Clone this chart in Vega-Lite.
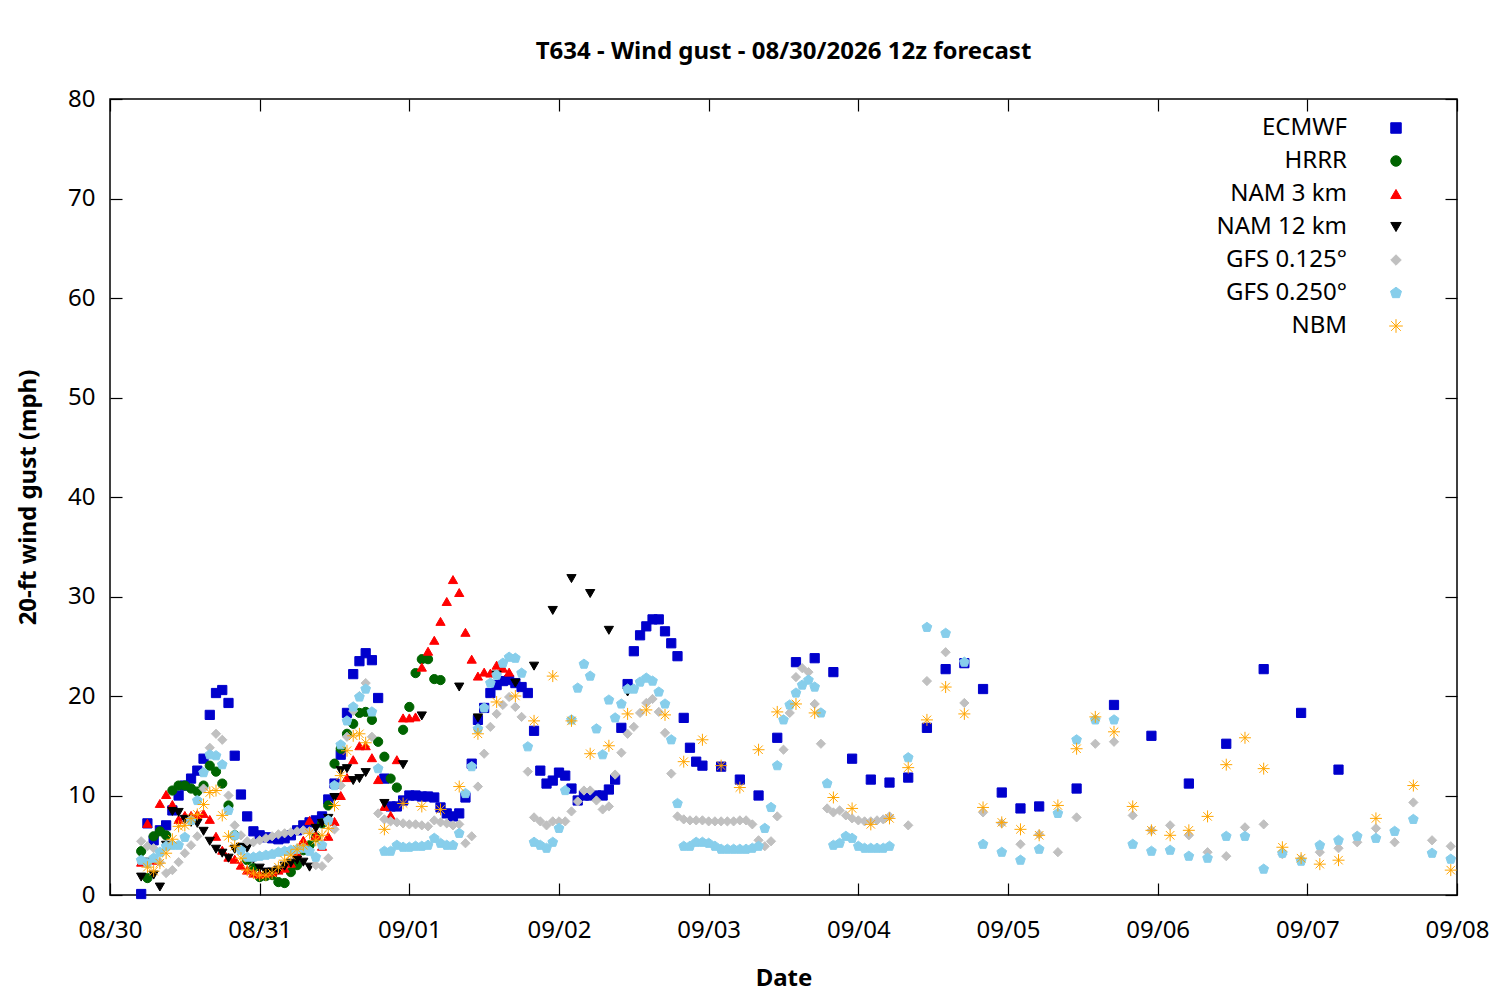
{
  "$schema": "https://vega.github.io/schema/vega-lite/v6.json",
  "width": 1347,
  "height": 796,
  "autosize": {"type": "none"},
  "padding": {"left": 110, "top": 99, "right": 43, "bottom": 105},
  "background": "white",
  "title": {
    "text": "T634 - Wind gust - 08/30/2026 12z forecast",
    "font": "Noto Sans",
    "fontSize": 24,
    "fontWeight": "bold",
    "color": "black",
    "anchor": "middle",
    "offset": 23
  },
  "config": {
    "font": "Noto Sans",
    "view": {"stroke": "black", "strokeWidth": 1.5},
    "axis": {
      "grid": false,
      "domain": false,
      "ticks": true,
      "tickColor": "black",
      "tickSize": -12,
      "tickWidth": 1.2,
      "labelFlush": false,
      "labelFont": "Noto Sans",
      "labelFontSize": 24,
      "labelColor": "black",
      "titleFont": "Noto Sans",
      "titleFontSize": 24,
      "titleFontWeight": "bold",
      "titleColor": "black"
    },
    "legend": {
      "orient": "none",
      "legendX": 1274,
      "legendY": 17,
      "padding": 0,
      "labelAlign": "right",
      "labelOffset": -61,
      "labelFont": "Noto Sans",
      "labelFontSize": 24,
      "labelColor": "black",
      "labelLimit": 400,
      "symbolSize": 110,
      "symbolStrokeWidth": 1,
      "rowPadding": 9
    }
  },
  "data": {
    "values": [
      {"model":"ECMWF","hour":5,"gust":0.1},{"model":"ECMWF","hour":6,"gust":7.2},{"model":"ECMWF","hour":7,"gust":5.5},{"model":"ECMWF","hour":8,"gust":6.5},{"model":"ECMWF","hour":9,"gust":7.0},{"model":"ECMWF","hour":10,"gust":8.5},{"model":"ECMWF","hour":11,"gust":10},{"model":"ECMWF","hour":12,"gust":11},{"model":"ECMWF","hour":13,"gust":11.7},{"model":"ECMWF","hour":14,"gust":12.5},{"model":"ECMWF","hour":15,"gust":13.7},{"model":"ECMWF","hour":16,"gust":18.1},{"model":"ECMWF","hour":17,"gust":20.3},{"model":"ECMWF","hour":18,"gust":20.6},{"model":"ECMWF","hour":19,"gust":19.3},{"model":"ECMWF","hour":20,"gust":14},{"model":"ECMWF","hour":21,"gust":10.1},{"model":"ECMWF","hour":22,"gust":7.9},{"model":"ECMWF","hour":23,"gust":6.4},{"model":"ECMWF","hour":24,"gust":6.0},{"model":"ECMWF","hour":25,"gust":5.8},{"model":"ECMWF","hour":26,"gust":5.7},{"model":"ECMWF","hour":27,"gust":5.6},{"model":"ECMWF","hour":28,"gust":5.7},{"model":"ECMWF","hour":29,"gust":6.0},{"model":"ECMWF","hour":30,"gust":6.5},{"model":"ECMWF","hour":31,"gust":7},{"model":"ECMWF","hour":32,"gust":7.3},{"model":"ECMWF","hour":33,"gust":7.5},{"model":"ECMWF","hour":34,"gust":7.9},{"model":"ECMWF","hour":35,"gust":9.6},{"model":"ECMWF","hour":36,"gust":11.2},{"model":"ECMWF","hour":37,"gust":14.1},{"model":"ECMWF","hour":38,"gust":18.3},{"model":"ECMWF","hour":39,"gust":22.2},{"model":"ECMWF","hour":40,"gust":23.5},{"model":"ECMWF","hour":41,"gust":24.3},{"model":"ECMWF","hour":42,"gust":23.6},{"model":"ECMWF","hour":43,"gust":19.8},{"model":"ECMWF","hour":44,"gust":11.7},{"model":"ECMWF","hour":45,"gust":8.9},{"model":"ECMWF","hour":46,"gust":8.9},{"model":"ECMWF","hour":47,"gust":9.5},{"model":"ECMWF","hour":48,"gust":10},{"model":"ECMWF","hour":49,"gust":10},{"model":"ECMWF","hour":50,"gust":9.9},{"model":"ECMWF","hour":51,"gust":9.9},{"model":"ECMWF","hour":52,"gust":9.8},{"model":"ECMWF","hour":53,"gust":8.8},{"model":"ECMWF","hour":54,"gust":8.2},{"model":"ECMWF","hour":55,"gust":7.9},{"model":"ECMWF","hour":56,"gust":8.2},{"model":"ECMWF","hour":57,"gust":9.8},{"model":"ECMWF","hour":58,"gust":13.2},{"model":"ECMWF","hour":59,"gust":17.6},{"model":"ECMWF","hour":60,"gust":18.8},{"model":"ECMWF","hour":61,"gust":20.3},{"model":"ECMWF","hour":62,"gust":21.1},{"model":"ECMWF","hour":63,"gust":21.5},{"model":"ECMWF","hour":64,"gust":21.6},{"model":"ECMWF","hour":65,"gust":21.3},{"model":"ECMWF","hour":66,"gust":20.9},{"model":"ECMWF","hour":67,"gust":20.3},{"model":"ECMWF","hour":68,"gust":16.5},{"model":"ECMWF","hour":69,"gust":12.5},{"model":"ECMWF","hour":70,"gust":11.2},{"model":"ECMWF","hour":71,"gust":11.5},{"model":"ECMWF","hour":72,"gust":12.3},{"model":"ECMWF","hour":73,"gust":12},{"model":"ECMWF","hour":74,"gust":10.7},{"model":"ECMWF","hour":75,"gust":9.5},{"model":"ECMWF","hour":76,"gust":10},{"model":"ECMWF","hour":77,"gust":10},{"model":"ECMWF","hour":78,"gust":10},{"model":"ECMWF","hour":79,"gust":10},{"model":"ECMWF","hour":80,"gust":10.6},{"model":"ECMWF","hour":81,"gust":11.6},{"model":"ECMWF","hour":82,"gust":16.8},{"model":"ECMWF","hour":83,"gust":21.2},{"model":"ECMWF","hour":84,"gust":24.5},{"model":"ECMWF","hour":85,"gust":26.1},{"model":"ECMWF","hour":86,"gust":27},{"model":"ECMWF","hour":87,"gust":27.7},{"model":"ECMWF","hour":88,"gust":27.7},{"model":"ECMWF","hour":89,"gust":26.5},{"model":"ECMWF","hour":90,"gust":25.3},{"model":"ECMWF","hour":91,"gust":24},{"model":"ECMWF","hour":92,"gust":17.8},{"model":"ECMWF","hour":93,"gust":14.8},{"model":"ECMWF","hour":94,"gust":13.4},{"model":"ECMWF","hour":95,"gust":13},
      {"model":"ECMWF","hour":98,"gust":12.9},{"model":"ECMWF","hour":101,"gust":11.6},{"model":"ECMWF","hour":104,"gust":10},{"model":"ECMWF","hour":107,"gust":15.8},{"model":"ECMWF","hour":110,"gust":23.4},{"model":"ECMWF","hour":113,"gust":23.8},{"model":"ECMWF","hour":116,"gust":22.4},{"model":"ECMWF","hour":119,"gust":13.7},{"model":"ECMWF","hour":122,"gust":11.6},{"model":"ECMWF","hour":125,"gust":11.3},{"model":"ECMWF","hour":128,"gust":11.8},{"model":"ECMWF","hour":131,"gust":16.8},{"model":"ECMWF","hour":134,"gust":22.7},{"model":"ECMWF","hour":137,"gust":23.3},{"model":"ECMWF","hour":140,"gust":20.7},{"model":"ECMWF","hour":143,"gust":10.3},{"model":"ECMWF","hour":146,"gust":8.7},{"model":"ECMWF","hour":149,"gust":8.9},{"model":"ECMWF","hour":155,"gust":10.7},{"model":"ECMWF","hour":161,"gust":19.1},{"model":"ECMWF","hour":167,"gust":16.0},{"model":"ECMWF","hour":173,"gust":11.2},{"model":"ECMWF","hour":179,"gust":15.2},{"model":"ECMWF","hour":185,"gust":22.7},{"model":"ECMWF","hour":191,"gust":18.3},{"model":"ECMWF","hour":197,"gust":12.6},
      {"model":"HRRR","hour":5,"gust":4.4},{"model":"HRRR","hour":6,"gust":1.7},{"model":"HRRR","hour":7,"gust":5.9},{"model":"HRRR","hour":8,"gust":6.4},{"model":"HRRR","hour":9,"gust":6.0},{"model":"HRRR","hour":10,"gust":10.5},{"model":"HRRR","hour":11,"gust":11},{"model":"HRRR","hour":12,"gust":11},{"model":"HRRR","hour":13,"gust":10.7},{"model":"HRRR","hour":14,"gust":10.4},{"model":"HRRR","hour":15,"gust":11},{"model":"HRRR","hour":16,"gust":13},{"model":"HRRR","hour":17,"gust":12.4},{"model":"HRRR","hour":18,"gust":11.2},{"model":"HRRR","hour":19,"gust":9},{"model":"HRRR","hour":20,"gust":6},{"model":"HRRR","hour":21,"gust":4.7},{"model":"HRRR","hour":22,"gust":3.5},{"model":"HRRR","hour":23,"gust":2.7},{"model":"HRRR","hour":24,"gust":1.8},{"model":"HRRR","hour":25,"gust":1.9},{"model":"HRRR","hour":26,"gust":2},{"model":"HRRR","hour":27,"gust":1.3},{"model":"HRRR","hour":28,"gust":1.2},{"model":"HRRR","hour":29,"gust":2.3},{"model":"HRRR","hour":30,"gust":3},{"model":"HRRR","hour":31,"gust":4.5},{"model":"HRRR","hour":32,"gust":5},{"model":"HRRR","hour":33,"gust":5.8},{"model":"HRRR","hour":34,"gust":7.2},{"model":"HRRR","hour":35,"gust":9},{"model":"HRRR","hour":36,"gust":13.2},{"model":"HRRR","hour":37,"gust":14.7},{"model":"HRRR","hour":38,"gust":16.2},{"model":"HRRR","hour":39,"gust":17.2},{"model":"HRRR","hour":40,"gust":18.3},{"model":"HRRR","hour":41,"gust":18.4},{"model":"HRRR","hour":42,"gust":17.6},{"model":"HRRR","hour":43,"gust":15.4},{"model":"HRRR","hour":44,"gust":13.9},{"model":"HRRR","hour":45,"gust":11.7},{"model":"HRRR","hour":46,"gust":10.8},{"model":"HRRR","hour":47,"gust":16.6},{"model":"HRRR","hour":48,"gust":18.9},{"model":"HRRR","hour":49,"gust":22.3},{"model":"HRRR","hour":50,"gust":23.7},{"model":"HRRR","hour":51,"gust":23.7},{"model":"HRRR","hour":52,"gust":21.7},{"model":"HRRR","hour":53,"gust":21.6},
      {"model":"NAM 3 km","hour":5,"gust":3.3},{"model":"NAM 3 km","hour":6,"gust":7.2},{"model":"NAM 3 km","hour":7,"gust":3.5},{"model":"NAM 3 km","hour":8,"gust":9.2},{"model":"NAM 3 km","hour":9,"gust":10.1},{"model":"NAM 3 km","hour":10,"gust":9.1},{"model":"NAM 3 km","hour":11,"gust":7.6},{"model":"NAM 3 km","hour":12,"gust":8.0},{"model":"NAM 3 km","hour":13,"gust":8.0},{"model":"NAM 3 km","hour":14,"gust":8.1},{"model":"NAM 3 km","hour":15,"gust":8.2},{"model":"NAM 3 km","hour":16,"gust":7.6},{"model":"NAM 3 km","hour":17,"gust":5.9},{"model":"NAM 3 km","hour":18,"gust":4.5},{"model":"NAM 3 km","hour":19,"gust":3.8},{"model":"NAM 3 km","hour":20,"gust":3.6},{"model":"NAM 3 km","hour":21,"gust":3.0},{"model":"NAM 3 km","hour":22,"gust":2.5},{"model":"NAM 3 km","hour":23,"gust":2.2},{"model":"NAM 3 km","hour":24,"gust":2.1},{"model":"NAM 3 km","hour":25,"gust":2.2},{"model":"NAM 3 km","hour":26,"gust":2.3},{"model":"NAM 3 km","hour":27,"gust":2.5},{"model":"NAM 3 km","hour":28,"gust":2.7},{"model":"NAM 3 km","hour":29,"gust":3.2},{"model":"NAM 3 km","hour":30,"gust":4.2},{"model":"NAM 3 km","hour":31,"gust":5.5},{"model":"NAM 3 km","hour":32,"gust":7.5},{"model":"NAM 3 km","hour":33,"gust":6.0},{"model":"NAM 3 km","hour":34,"gust":4.9},{"model":"NAM 3 km","hour":35,"gust":5.9},{"model":"NAM 3 km","hour":36,"gust":7.4},{"model":"NAM 3 km","hour":37,"gust":10},{"model":"NAM 3 km","hour":38,"gust":11.8},{"model":"NAM 3 km","hour":39,"gust":13.6},{"model":"NAM 3 km","hour":40,"gust":15},{"model":"NAM 3 km","hour":41,"gust":15},{"model":"NAM 3 km","hour":42,"gust":13.8},{"model":"NAM 3 km","hour":43,"gust":11.6},{"model":"NAM 3 km","hour":44,"gust":8.9},{"model":"NAM 3 km","hour":45,"gust":8.0},{"model":"NAM 3 km","hour":46,"gust":13.6},{"model":"NAM 3 km","hour":47,"gust":17.8},{"model":"NAM 3 km","hour":48,"gust":17.8},{"model":"NAM 3 km","hour":49,"gust":17.9},{"model":"NAM 3 km","hour":50,"gust":22.9},{"model":"NAM 3 km","hour":51,"gust":24.5},{"model":"NAM 3 km","hour":52,"gust":25.6},{"model":"NAM 3 km","hour":53,"gust":27.5},{"model":"NAM 3 km","hour":54,"gust":29.5},{"model":"NAM 3 km","hour":55,"gust":31.7},{"model":"NAM 3 km","hour":56,"gust":30.4},{"model":"NAM 3 km","hour":57,"gust":26.4},{"model":"NAM 3 km","hour":58,"gust":23.7},{"model":"NAM 3 km","hour":59,"gust":22.0},{"model":"NAM 3 km","hour":60,"gust":22.4},{"model":"NAM 3 km","hour":61,"gust":22.3},{"model":"NAM 3 km","hour":62,"gust":23.1},{"model":"NAM 3 km","hour":63,"gust":22.8},{"model":"NAM 3 km","hour":64,"gust":22.4},
      {"model":"NAM 12 km","hour":5,"gust":1.8},{"model":"NAM 12 km","hour":6,"gust":3.3},{"model":"NAM 12 km","hour":7,"gust":2.0},{"model":"NAM 12 km","hour":8,"gust":0.8},{"model":"NAM 12 km","hour":9,"gust":5.0},{"model":"NAM 12 km","hour":10,"gust":8.4},{"model":"NAM 12 km","hour":11,"gust":8.3},{"model":"NAM 12 km","hour":12,"gust":7.6},{"model":"NAM 12 km","hour":13,"gust":7.3},{"model":"NAM 12 km","hour":14,"gust":7.2},{"model":"NAM 12 km","hour":15,"gust":6.4},{"model":"NAM 12 km","hour":16,"gust":5.4},{"model":"NAM 12 km","hour":17,"gust":4.6},{"model":"NAM 12 km","hour":18,"gust":4.2},{"model":"NAM 12 km","hour":19,"gust":3.7},{"model":"NAM 12 km","hour":20,"gust":4.6},{"model":"NAM 12 km","hour":21,"gust":4.8},{"model":"NAM 12 km","hour":22,"gust":4.7},{"model":"NAM 12 km","hour":23,"gust":3.6},{"model":"NAM 12 km","hour":24,"gust":2.7},{"model":"NAM 12 km","hour":25,"gust":2.3},{"model":"NAM 12 km","hour":26,"gust":2.3},{"model":"NAM 12 km","hour":27,"gust":2.5},{"model":"NAM 12 km","hour":28,"gust":2.9},{"model":"NAM 12 km","hour":29,"gust":3.2},{"model":"NAM 12 km","hour":30,"gust":3.5},{"model":"NAM 12 km","hour":31,"gust":3.3},{"model":"NAM 12 km","hour":32,"gust":2.8},{"model":"NAM 12 km","hour":33,"gust":6.7},{"model":"NAM 12 km","hour":34,"gust":7.2},{"model":"NAM 12 km","hour":35,"gust":7.7},{"model":"NAM 12 km","hour":36,"gust":9.8},{"model":"NAM 12 km","hour":37,"gust":12.5},{"model":"NAM 12 km","hour":38,"gust":12.7},{"model":"NAM 12 km","hour":39,"gust":11.5},{"model":"NAM 12 km","hour":40,"gust":11.7},{"model":"NAM 12 km","hour":41,"gust":12.3},
      {"model":"NAM 12 km","hour":44,"gust":9.2},{"model":"NAM 12 km","hour":47,"gust":13.1},{"model":"NAM 12 km","hour":50,"gust":18.0},{"model":"NAM 12 km","hour":56,"gust":20.9},{"model":"NAM 12 km","hour":59,"gust":17.8},{"model":"NAM 12 km","hour":62,"gust":22.1},{"model":"NAM 12 km","hour":65,"gust":21.3},{"model":"NAM 12 km","hour":68,"gust":23.0},{"model":"NAM 12 km","hour":71,"gust":28.6},{"model":"NAM 12 km","hour":74,"gust":31.8},{"model":"NAM 12 km","hour":77,"gust":30.3},{"model":"NAM 12 km","hour":80,"gust":26.6},{"model":"NAM 12 km","hour":83,"gust":20.4},
      {"model":"GFS 0.125°","hour":5,"gust":5.4},{"model":"GFS 0.125°","hour":6,"gust":4.9},{"model":"GFS 0.125°","hour":7,"gust":4.7},{"model":"GFS 0.125°","hour":8,"gust":3.3},{"model":"GFS 0.125°","hour":9,"gust":2.2},{"model":"GFS 0.125°","hour":10,"gust":2.5},{"model":"GFS 0.125°","hour":11,"gust":3.3},{"model":"GFS 0.125°","hour":12,"gust":4.2},{"model":"GFS 0.125°","hour":13,"gust":5.0},{"model":"GFS 0.125°","hour":14,"gust":5.9},{"model":"GFS 0.125°","hour":15,"gust":10.7},{"model":"GFS 0.125°","hour":16,"gust":14.8},{"model":"GFS 0.125°","hour":17,"gust":16.2},{"model":"GFS 0.125°","hour":18,"gust":15.6},{"model":"GFS 0.125°","hour":19,"gust":10},{"model":"GFS 0.125°","hour":20,"gust":7.0},{"model":"GFS 0.125°","hour":21,"gust":6.0},{"model":"GFS 0.125°","hour":22,"gust":5.4},{"model":"GFS 0.125°","hour":23,"gust":5.3},{"model":"GFS 0.125°","hour":24,"gust":5.5},{"model":"GFS 0.125°","hour":25,"gust":5.7},{"model":"GFS 0.125°","hour":26,"gust":5.9},{"model":"GFS 0.125°","hour":27,"gust":6.1},{"model":"GFS 0.125°","hour":28,"gust":6.2},{"model":"GFS 0.125°","hour":29,"gust":6.3},{"model":"GFS 0.125°","hour":30,"gust":6.4},{"model":"GFS 0.125°","hour":31,"gust":6.5},{"model":"GFS 0.125°","hour":32,"gust":6.4},{"model":"GFS 0.125°","hour":33,"gust":3.0},{"model":"GFS 0.125°","hour":34,"gust":2.9},{"model":"GFS 0.125°","hour":35,"gust":3.7},{"model":"GFS 0.125°","hour":36,"gust":6.6},{"model":"GFS 0.125°","hour":37,"gust":11},{"model":"GFS 0.125°","hour":38,"gust":15.9},{"model":"GFS 0.125°","hour":39,"gust":18.5},{"model":"GFS 0.125°","hour":40,"gust":20},{"model":"GFS 0.125°","hour":41,"gust":21.3},{"model":"GFS 0.125°","hour":42,"gust":15.9},{"model":"GFS 0.125°","hour":43,"gust":8.2},{"model":"GFS 0.125°","hour":44,"gust":7.6},{"model":"GFS 0.125°","hour":45,"gust":7.4},{"model":"GFS 0.125°","hour":46,"gust":7.3},{"model":"GFS 0.125°","hour":47,"gust":7.2},{"model":"GFS 0.125°","hour":48,"gust":7.1},{"model":"GFS 0.125°","hour":49,"gust":7.1},{"model":"GFS 0.125°","hour":50,"gust":7.0},{"model":"GFS 0.125°","hour":51,"gust":6.9},{"model":"GFS 0.125°","hour":52,"gust":7.5},{"model":"GFS 0.125°","hour":53,"gust":7.3},{"model":"GFS 0.125°","hour":54,"gust":7.2},{"model":"GFS 0.125°","hour":55,"gust":7.0},{"model":"GFS 0.125°","hour":56,"gust":7.1},{"model":"GFS 0.125°","hour":57,"gust":5.2},{"model":"GFS 0.125°","hour":58,"gust":5.9},{"model":"GFS 0.125°","hour":59,"gust":10.9},{"model":"GFS 0.125°","hour":60,"gust":14.2},{"model":"GFS 0.125°","hour":61,"gust":16.9},{"model":"GFS 0.125°","hour":62,"gust":18.2},{"model":"GFS 0.125°","hour":63,"gust":19.1},{"model":"GFS 0.125°","hour":64,"gust":19.9},{"model":"GFS 0.125°","hour":65,"gust":18.9},{"model":"GFS 0.125°","hour":66,"gust":17.9},{"model":"GFS 0.125°","hour":67,"gust":12.4},{"model":"GFS 0.125°","hour":68,"gust":7.8},{"model":"GFS 0.125°","hour":69,"gust":7.4},{"model":"GFS 0.125°","hour":70,"gust":7.0},{"model":"GFS 0.125°","hour":71,"gust":7.4},{"model":"GFS 0.125°","hour":72,"gust":7.4},{"model":"GFS 0.125°","hour":73,"gust":7.4},{"model":"GFS 0.125°","hour":74,"gust":8.4},{"model":"GFS 0.125°","hour":75,"gust":9.4},{"model":"GFS 0.125°","hour":76,"gust":10.5},{"model":"GFS 0.125°","hour":77,"gust":10.5},{"model":"GFS 0.125°","hour":78,"gust":9.5},{"model":"GFS 0.125°","hour":79,"gust":8.6},{"model":"GFS 0.125°","hour":80,"gust":8.9},{"model":"GFS 0.125°","hour":81,"gust":12.1},{"model":"GFS 0.125°","hour":82,"gust":14.3},{"model":"GFS 0.125°","hour":83,"gust":16.2},{"model":"GFS 0.125°","hour":84,"gust":16.9},{"model":"GFS 0.125°","hour":85,"gust":18.3},{"model":"GFS 0.125°","hour":86,"gust":19.3},{"model":"GFS 0.125°","hour":87,"gust":19.7},{"model":"GFS 0.125°","hour":88,"gust":18.4},{"model":"GFS 0.125°","hour":89,"gust":16.3},{"model":"GFS 0.125°","hour":90,"gust":12.2},{"model":"GFS 0.125°","hour":91,"gust":7.9},{"model":"GFS 0.125°","hour":92,"gust":7.6},{"model":"GFS 0.125°","hour":93,"gust":7.5},{"model":"GFS 0.125°","hour":94,"gust":7.5},{"model":"GFS 0.125°","hour":95,"gust":7.5},{"model":"GFS 0.125°","hour":96,"gust":7.4},{"model":"GFS 0.125°","hour":97,"gust":7.4},{"model":"GFS 0.125°","hour":98,"gust":7.4},{"model":"GFS 0.125°","hour":99,"gust":7.4},{"model":"GFS 0.125°","hour":100,"gust":7.4},{"model":"GFS 0.125°","hour":101,"gust":7.5},{"model":"GFS 0.125°","hour":102,"gust":7.5},{"model":"GFS 0.125°","hour":103,"gust":7.1},{"model":"GFS 0.125°","hour":104,"gust":5.5},{"model":"GFS 0.125°","hour":105,"gust":4.9},{"model":"GFS 0.125°","hour":106,"gust":5.4},{"model":"GFS 0.125°","hour":107,"gust":7.9},{"model":"GFS 0.125°","hour":108,"gust":14.6},{"model":"GFS 0.125°","hour":109,"gust":18.3},{"model":"GFS 0.125°","hour":110,"gust":21.9},{"model":"GFS 0.125°","hour":111,"gust":22.8},{"model":"GFS 0.125°","hour":112,"gust":22.4},{"model":"GFS 0.125°","hour":113,"gust":19.2},{"model":"GFS 0.125°","hour":114,"gust":15.2},{"model":"GFS 0.125°","hour":115,"gust":8.7},{"model":"GFS 0.125°","hour":116,"gust":8.3},{"model":"GFS 0.125°","hour":117,"gust":8.5},{"model":"GFS 0.125°","hour":118,"gust":8.0},{"model":"GFS 0.125°","hour":119,"gust":7.7},{"model":"GFS 0.125°","hour":120,"gust":7.5},{"model":"GFS 0.125°","hour":121,"gust":7.4},{"model":"GFS 0.125°","hour":122,"gust":7.4},{"model":"GFS 0.125°","hour":123,"gust":7.5},{"model":"GFS 0.125°","hour":124,"gust":7.6},{"model":"GFS 0.125°","hour":125,"gust":7.9},
      {"model":"GFS 0.125°","hour":128,"gust":7.0},{"model":"GFS 0.125°","hour":131,"gust":21.5},{"model":"GFS 0.125°","hour":134,"gust":24.4},{"model":"GFS 0.125°","hour":137,"gust":19.3},{"model":"GFS 0.125°","hour":140,"gust":8.3},{"model":"GFS 0.125°","hour":143,"gust":7.2},{"model":"GFS 0.125°","hour":146,"gust":5.1},{"model":"GFS 0.125°","hour":149,"gust":6.1},{"model":"GFS 0.125°","hour":152,"gust":4.3},{"model":"GFS 0.125°","hour":155,"gust":7.8},{"model":"GFS 0.125°","hour":158,"gust":15.2},{"model":"GFS 0.125°","hour":161,"gust":15.4},{"model":"GFS 0.125°","hour":164,"gust":8.0},{"model":"GFS 0.125°","hour":167,"gust":6.5},{"model":"GFS 0.125°","hour":170,"gust":7.0},{"model":"GFS 0.125°","hour":173,"gust":6.0},{"model":"GFS 0.125°","hour":176,"gust":4.3},{"model":"GFS 0.125°","hour":179,"gust":3.9},{"model":"GFS 0.125°","hour":182,"gust":6.8},{"model":"GFS 0.125°","hour":185,"gust":7.1},{"model":"GFS 0.125°","hour":188,"gust":4.1},{"model":"GFS 0.125°","hour":191,"gust":3.6},{"model":"GFS 0.125°","hour":194,"gust":4.3},{"model":"GFS 0.125°","hour":197,"gust":4.7},{"model":"GFS 0.125°","hour":200,"gust":5.3},{"model":"GFS 0.125°","hour":203,"gust":6.7},{"model":"GFS 0.125°","hour":206,"gust":5.3},{"model":"GFS 0.125°","hour":209,"gust":9.3},{"model":"GFS 0.125°","hour":212,"gust":5.5},{"model":"GFS 0.125°","hour":215,"gust":4.9},
      {"model":"GFS 0.250°","hour":5,"gust":3.5},{"model":"GFS 0.250°","hour":6,"gust":3.2},{"model":"GFS 0.250°","hour":7,"gust":3.7},{"model":"GFS 0.250°","hour":8,"gust":4.3},{"model":"GFS 0.250°","hour":9,"gust":4.9},{"model":"GFS 0.250°","hour":10,"gust":5.0},{"model":"GFS 0.250°","hour":11,"gust":5.0},{"model":"GFS 0.250°","hour":12,"gust":5.8},{"model":"GFS 0.250°","hour":13,"gust":7.5},{"model":"GFS 0.250°","hour":14,"gust":9.5},{"model":"GFS 0.250°","hour":15,"gust":12.3},{"model":"GFS 0.250°","hour":16,"gust":14.1},{"model":"GFS 0.250°","hour":17,"gust":14.0},{"model":"GFS 0.250°","hour":18,"gust":13.1},{"model":"GFS 0.250°","hour":19,"gust":8.5},{"model":"GFS 0.250°","hour":20,"gust":6.0},{"model":"GFS 0.250°","hour":21,"gust":4.5},{"model":"GFS 0.250°","hour":22,"gust":3.8},{"model":"GFS 0.250°","hour":23,"gust":3.8},{"model":"GFS 0.250°","hour":24,"gust":3.9},{"model":"GFS 0.250°","hour":25,"gust":4.0},{"model":"GFS 0.250°","hour":26,"gust":4.1},{"model":"GFS 0.250°","hour":27,"gust":4.3},{"model":"GFS 0.250°","hour":28,"gust":4.4},{"model":"GFS 0.250°","hour":29,"gust":4.5},{"model":"GFS 0.250°","hour":30,"gust":4.6},{"model":"GFS 0.250°","hour":31,"gust":4.7},{"model":"GFS 0.250°","hour":32,"gust":4.4},{"model":"GFS 0.250°","hour":33,"gust":3.8},{"model":"GFS 0.250°","hour":34,"gust":5.0},{"model":"GFS 0.250°","hour":35,"gust":7.5},{"model":"GFS 0.250°","hour":36,"gust":11},{"model":"GFS 0.250°","hour":37,"gust":15.1},{"model":"GFS 0.250°","hour":38,"gust":17.5},{"model":"GFS 0.250°","hour":39,"gust":18.9},{"model":"GFS 0.250°","hour":40,"gust":19.9},{"model":"GFS 0.250°","hour":41,"gust":20.7},{"model":"GFS 0.250°","hour":42,"gust":18.4},{"model":"GFS 0.250°","hour":43,"gust":12.7},{"model":"GFS 0.250°","hour":44,"gust":4.4},{"model":"GFS 0.250°","hour":45,"gust":4.4},{"model":"GFS 0.250°","hour":46,"gust":5.0},{"model":"GFS 0.250°","hour":47,"gust":4.8},{"model":"GFS 0.250°","hour":48,"gust":4.8},{"model":"GFS 0.250°","hour":49,"gust":4.9},{"model":"GFS 0.250°","hour":50,"gust":4.9},{"model":"GFS 0.250°","hour":51,"gust":5.0},{"model":"GFS 0.250°","hour":52,"gust":5.7},{"model":"GFS 0.250°","hour":53,"gust":5.2},{"model":"GFS 0.250°","hour":54,"gust":5.0},{"model":"GFS 0.250°","hour":55,"gust":5.0},{"model":"GFS 0.250°","hour":56,"gust":6.2},{"model":"GFS 0.250°","hour":57,"gust":10.2},{"model":"GFS 0.250°","hour":58,"gust":12.9},{"model":"GFS 0.250°","hour":59,"gust":16.7},{"model":"GFS 0.250°","hour":60,"gust":18.8},{"model":"GFS 0.250°","hour":61,"gust":21.3},{"model":"GFS 0.250°","hour":62,"gust":22.1},{"model":"GFS 0.250°","hour":63,"gust":23.3},{"model":"GFS 0.250°","hour":64,"gust":23.9},{"model":"GFS 0.250°","hour":65,"gust":23.8},{"model":"GFS 0.250°","hour":66,"gust":22.3},{"model":"GFS 0.250°","hour":67,"gust":14.9},{"model":"GFS 0.250°","hour":68,"gust":5.3},{"model":"GFS 0.250°","hour":69,"gust":5.0},{"model":"GFS 0.250°","hour":70,"gust":4.7},{"model":"GFS 0.250°","hour":71,"gust":5.3},{"model":"GFS 0.250°","hour":72,"gust":6.7},{"model":"GFS 0.250°","hour":73,"gust":10.5},{"model":"GFS 0.250°","hour":74,"gust":17.6},{"model":"GFS 0.250°","hour":75,"gust":20.8},{"model":"GFS 0.250°","hour":76,"gust":23.2},{"model":"GFS 0.250°","hour":77,"gust":22.0},{"model":"GFS 0.250°","hour":78,"gust":16.7},{"model":"GFS 0.250°","hour":79,"gust":14.1},{"model":"GFS 0.250°","hour":80,"gust":19.6},{"model":"GFS 0.250°","hour":81,"gust":17.8},{"model":"GFS 0.250°","hour":82,"gust":19.2},{"model":"GFS 0.250°","hour":83,"gust":20.7},{"model":"GFS 0.250°","hour":84,"gust":20.7},{"model":"GFS 0.250°","hour":85,"gust":21.4},{"model":"GFS 0.250°","hour":86,"gust":21.8},{"model":"GFS 0.250°","hour":87,"gust":21.5},{"model":"GFS 0.250°","hour":88,"gust":20.4},{"model":"GFS 0.250°","hour":89,"gust":19.2},{"model":"GFS 0.250°","hour":90,"gust":15.6},{"model":"GFS 0.250°","hour":91,"gust":9.2},{"model":"GFS 0.250°","hour":92,"gust":4.9},{"model":"GFS 0.250°","hour":93,"gust":4.9},{"model":"GFS 0.250°","hour":94,"gust":5.3},{"model":"GFS 0.250°","hour":95,"gust":5.3},{"model":"GFS 0.250°","hour":96,"gust":5.2},{"model":"GFS 0.250°","hour":97,"gust":4.9},{"model":"GFS 0.250°","hour":98,"gust":4.6},{"model":"GFS 0.250°","hour":99,"gust":4.6},{"model":"GFS 0.250°","hour":100,"gust":4.6},{"model":"GFS 0.250°","hour":101,"gust":4.6},{"model":"GFS 0.250°","hour":102,"gust":4.6},{"model":"GFS 0.250°","hour":103,"gust":4.7},{"model":"GFS 0.250°","hour":104,"gust":4.9},{"model":"GFS 0.250°","hour":105,"gust":6.7},{"model":"GFS 0.250°","hour":106,"gust":8.8},{"model":"GFS 0.250°","hour":107,"gust":13.0},{"model":"GFS 0.250°","hour":108,"gust":17.6},{"model":"GFS 0.250°","hour":109,"gust":19.1},{"model":"GFS 0.250°","hour":110,"gust":20.3},{"model":"GFS 0.250°","hour":111,"gust":21.1},{"model":"GFS 0.250°","hour":112,"gust":21.6},{"model":"GFS 0.250°","hour":113,"gust":20.9},{"model":"GFS 0.250°","hour":114,"gust":18.3},{"model":"GFS 0.250°","hour":115,"gust":11.2},{"model":"GFS 0.250°","hour":116,"gust":5.0},{"model":"GFS 0.250°","hour":117,"gust":5.2},{"model":"GFS 0.250°","hour":118,"gust":5.9},{"model":"GFS 0.250°","hour":119,"gust":5.7},{"model":"GFS 0.250°","hour":120,"gust":4.9},{"model":"GFS 0.250°","hour":121,"gust":4.7},{"model":"GFS 0.250°","hour":122,"gust":4.7},{"model":"GFS 0.250°","hour":123,"gust":4.7},{"model":"GFS 0.250°","hour":124,"gust":4.7},{"model":"GFS 0.250°","hour":125,"gust":4.9},
      {"model":"GFS 0.250°","hour":128,"gust":13.8},{"model":"GFS 0.250°","hour":131,"gust":26.9},{"model":"GFS 0.250°","hour":134,"gust":26.3},{"model":"GFS 0.250°","hour":137,"gust":23.4},{"model":"GFS 0.250°","hour":140,"gust":5.1},{"model":"GFS 0.250°","hour":143,"gust":4.3},{"model":"GFS 0.250°","hour":146,"gust":3.5},{"model":"GFS 0.250°","hour":149,"gust":4.6},{"model":"GFS 0.250°","hour":152,"gust":8.2},{"model":"GFS 0.250°","hour":155,"gust":15.6},{"model":"GFS 0.250°","hour":158,"gust":17.6},{"model":"GFS 0.250°","hour":161,"gust":17.6},{"model":"GFS 0.250°","hour":164,"gust":5.1},{"model":"GFS 0.250°","hour":167,"gust":4.4},{"model":"GFS 0.250°","hour":170,"gust":4.5},{"model":"GFS 0.250°","hour":173,"gust":3.9},{"model":"GFS 0.250°","hour":176,"gust":3.7},{"model":"GFS 0.250°","hour":179,"gust":5.9},{"model":"GFS 0.250°","hour":182,"gust":5.9},{"model":"GFS 0.250°","hour":185,"gust":2.6},{"model":"GFS 0.250°","hour":188,"gust":4.2},{"model":"GFS 0.250°","hour":191,"gust":3.4},{"model":"GFS 0.250°","hour":194,"gust":5.0},{"model":"GFS 0.250°","hour":197,"gust":5.5},{"model":"GFS 0.250°","hour":200,"gust":5.9},{"model":"GFS 0.250°","hour":203,"gust":5.7},{"model":"GFS 0.250°","hour":206,"gust":6.4},{"model":"GFS 0.250°","hour":209,"gust":7.6},{"model":"GFS 0.250°","hour":212,"gust":4.2},{"model":"GFS 0.250°","hour":215,"gust":3.6},
      {"model":"NBM","hour":6,"gust":2.8},{"model":"NBM","hour":7,"gust":2.4},{"model":"NBM","hour":8,"gust":3.2},{"model":"NBM","hour":9,"gust":4.2},{"model":"NBM","hour":10,"gust":5.6},{"model":"NBM","hour":11,"gust":6.9},{"model":"NBM","hour":12,"gust":7.0},{"model":"NBM","hour":13,"gust":7.7},{"model":"NBM","hour":14,"gust":8.1},{"model":"NBM","hour":15,"gust":9.1},{"model":"NBM","hour":16,"gust":10.3},{"model":"NBM","hour":17,"gust":10.5},{"model":"NBM","hour":18,"gust":8.0},{"model":"NBM","hour":19,"gust":5.9},{"model":"NBM","hour":20,"gust":4.9},{"model":"NBM","hour":21,"gust":3.7},{"model":"NBM","hour":22,"gust":2.5},{"model":"NBM","hour":23,"gust":2.2},{"model":"NBM","hour":24,"gust":2.0},{"model":"NBM","hour":25,"gust":2.0},{"model":"NBM","hour":26,"gust":2.2},{"model":"NBM","hour":27,"gust":2.8},{"model":"NBM","hour":28,"gust":3.5},{"model":"NBM","hour":29,"gust":4.0},{"model":"NBM","hour":30,"gust":4.6},{"model":"NBM","hour":31,"gust":5.0},{"model":"NBM","hour":32,"gust":6.2},{"model":"NBM","hour":33,"gust":5.5},{"model":"NBM","hour":34,"gust":6.0},{"model":"NBM","hour":35,"gust":6.7},{"model":"NBM","hour":36,"gust":9.0},{"model":"NBM","hour":37,"gust":12.0},{"model":"NBM","hour":38,"gust":14.5},{"model":"NBM","hour":39,"gust":16.0},{"model":"NBM","hour":40,"gust":16.2},{"model":"NBM","hour":41,"gust":15.3},
      {"model":"NBM","hour":44,"gust":6.6},{"model":"NBM","hour":47,"gust":9.2},{"model":"NBM","hour":50,"gust":8.9},{"model":"NBM","hour":53,"gust":8.6},{"model":"NBM","hour":56,"gust":10.9},{"model":"NBM","hour":59,"gust":16.2},{"model":"NBM","hour":62,"gust":19.4},{"model":"NBM","hour":65,"gust":20.0},{"model":"NBM","hour":68,"gust":17.5},{"model":"NBM","hour":71,"gust":22.0},{"model":"NBM","hour":74,"gust":17.5},{"model":"NBM","hour":77,"gust":14.2},{"model":"NBM","hour":80,"gust":15.0},{"model":"NBM","hour":83,"gust":18.2},{"model":"NBM","hour":86,"gust":18.6},{"model":"NBM","hour":89,"gust":18.1},{"model":"NBM","hour":92,"gust":13.4},{"model":"NBM","hour":95,"gust":15.6},{"model":"NBM","hour":98,"gust":13.0},{"model":"NBM","hour":101,"gust":10.8},{"model":"NBM","hour":104,"gust":14.6},{"model":"NBM","hour":107,"gust":18.4},{"model":"NBM","hour":110,"gust":19.2},{"model":"NBM","hour":113,"gust":18.3},{"model":"NBM","hour":116,"gust":9.8},{"model":"NBM","hour":119,"gust":8.7},{"model":"NBM","hour":122,"gust":7.1},{"model":"NBM","hour":125,"gust":7.7},{"model":"NBM","hour":128,"gust":12.8},{"model":"NBM","hour":131,"gust":17.6},{"model":"NBM","hour":134,"gust":20.9},{"model":"NBM","hour":137,"gust":18.2},{"model":"NBM","hour":140,"gust":8.8},{"model":"NBM","hour":143,"gust":7.3},{"model":"NBM","hour":146,"gust":6.6},{"model":"NBM","hour":149,"gust":6.0},{"model":"NBM","hour":152,"gust":9.0},{"model":"NBM","hour":155,"gust":14.7},{"model":"NBM","hour":158,"gust":17.9},{"model":"NBM","hour":161,"gust":16.4},{"model":"NBM","hour":164,"gust":8.9},{"model":"NBM","hour":167,"gust":6.5},{"model":"NBM","hour":170,"gust":6.0},{"model":"NBM","hour":173,"gust":6.5},{"model":"NBM","hour":176,"gust":7.9},{"model":"NBM","hour":179,"gust":13.1},{"model":"NBM","hour":182,"gust":15.8},{"model":"NBM","hour":185,"gust":12.7},{"model":"NBM","hour":188,"gust":4.8},{"model":"NBM","hour":191,"gust":3.7},{"model":"NBM","hour":194,"gust":3.1},{"model":"NBM","hour":197,"gust":3.5},{"model":"NBM","hour":203,"gust":7.7},{"model":"NBM","hour":209,"gust":11.0},{"model":"NBM","hour":215,"gust":2.5}
    ]
  },
  "layer": [
    {
      "mark": {"type": "point", "filled": true, "opacity": 1, "size": 85, "strokeWidth": 1},
      "encoding": {
        "x": {
          "field": "hour",
          "type": "quantitative",
          "scale": {"domain": [0, 216], "nice": false, "zero": false},
          "axis": {
            "orient": "bottom",
            "values": [0, 24, 48, 72, 96, 120, 144, 168, 192, 216],
            "labelExpr": "['08/30','08/31','09/01','09/02','09/03','09/04','09/05','09/06','09/07','09/08'][round(datum.value / 24)]",
            "title": "Date",
            "labelPadding": 35,
            "titlePadding": 24
          }
        },
        "y": {
          "field": "gust",
          "type": "quantitative",
          "scale": {"domain": [0, 80], "nice": false},
          "axis": {
            "orient": "left",
            "values": [0, 10, 20, 30, 40, 50, 60, 70, 80],
            "title": "20-ft wind gust (mph)",
            "labelPadding": 27,
            "titlePadding": 27
          }
        },
        "color": {
          "field": "model",
          "type": "nominal",
          "scale": {
            "domain": ["ECMWF", "HRRR", "NAM 3 km", "NAM 12 km", "GFS 0.125°", "GFS 0.250°", "NBM"],
            "range": ["#0000CC", "#006400", "#FF0000", "#000000", "#C0C0C0", "#87CEEB", "#FFA500"]
          },
          "legend": {"title": null}
        },
        "stroke": {
          "field": "model",
          "type": "nominal",
          "scale": {
            "domain": ["ECMWF", "HRRR", "NAM 3 km", "NAM 12 km", "GFS 0.125°", "GFS 0.250°", "NBM"],
            "range": ["#0000CC", "#006400", "#FF0000", "#000000", "#C0C0C0", "#87CEEB", "#FFA500"]
          },
          "legend": {"title": null}
        },
        "shape": {
          "field": "model",
          "type": "nominal",
          "scale": {
            "domain": ["ECMWF", "HRRR", "NAM 3 km", "NAM 12 km", "GFS 0.125°", "GFS 0.250°", "NBM"],
            "range": [
              "square",
              "circle",
              "triangle-up",
              "triangle-down",
              "diamond",
              "M0,-1.1L1.05,-0.34L0.65,0.89L-0.65,0.89L-1.05,-0.34Z",
              "M-1.3,0L1.3,0M0,-1.3L0,1.3M-0.92,-0.92L0.92,0.92M-0.92,0.92L0.92,-0.92"
            ]
          },
          "legend": {"title": null}
        }
      }
    },
    {
      "mark": {"type": "point", "opacity": 0},
      "encoding": {
        "x": {
          "field": "hour",
          "type": "quantitative",
          "axis": {"orient": "top", "values": [0, 24, 48, 72, 96, 120, 144, 168, 192, 216], "labels": false, "title": null}
        },
        "y": {
          "field": "gust",
          "type": "quantitative",
          "axis": {"orient": "right", "values": [0, 10, 20, 30, 40, 50, 60, 70, 80], "labels": false, "title": null}
        }
      }
    }
  ],
  "resolve": {"axis": {"x": "independent", "y": "independent"}}
}
